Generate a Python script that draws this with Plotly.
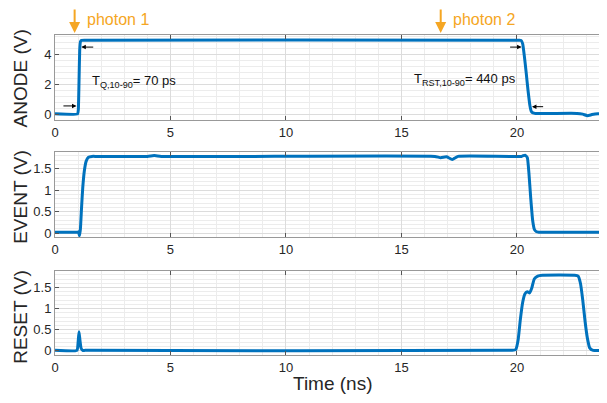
import plotly.graph_objects as go

# ---------------- data ----------------
anode_t = [0, 0.98, 1.01, 1.04, 1.07, 1.10, 1.15, 1.3, 20.1, 20.18, 20.25, 20.32, 20.4, 20.48, 20.56, 20.62, 20.7, 20.8, 22.6, 22.85, 23.05, 23.25, 23.5, 23.9]
anode_v = [0.02, 0.02, 0.3, 2.2, 4.3, 4.85, 4.94, 4.95, 4.95, 4.94, 4.7, 3.9, 2.8, 1.6, 0.6, 0.2, 0.08, 0.05, 0.05, 0.0, -0.1, -0.03, 0.03, 0.05]

event_t = [0, 0.98, 1.02, 1.06, 1.1, 1.15, 1.2, 1.27, 1.35, 1.45, 1.6, 1.8, 4.0, 4.3, 4.6, 16.45, 16.7, 16.95, 17.2, 17.45, 20.2, 20.35, 20.45, 20.52, 20.6, 20.68, 20.76, 20.85, 20.95, 21.1, 23.9]
event_v = [0.02, 0.02, 0.03, -0.06, 0.1, 0.6, 1.05, 1.45, 1.68, 1.77, 1.79, 1.79, 1.79, 1.81, 1.79, 1.79, 1.76, 1.78, 1.72, 1.79, 1.79, 1.82, 1.76, 1.4, 0.8, 0.3, 0.08, 0.03, 0.02, 0.02, 0.02]

reset_t = [0, 0.95, 1.0, 1.04, 1.08, 1.13, 1.2, 1.3, 19.8, 19.95, 20.05, 20.15, 20.25, 20.35, 20.45, 20.55, 20.65, 20.75, 20.9, 21.1, 22.5, 22.65, 22.75, 22.85, 22.95, 23.05, 23.15, 23.3, 23.9]
reset_v = [0.01, 0.01, 0.2, 0.45, 0.25, 0.06, 0.01, 0.01, 0.01, 0.03, 0.25, 0.75, 1.15, 1.35, 1.40, 1.37, 1.50, 1.70, 1.77, 1.79, 1.79, 1.77, 1.6, 1.2, 0.7, 0.3, 0.07, 0.01, 0.01]

x_ticks = [0, 5, 10, 15, 20]
anode_ticks = [0, 2, 4]
logic_ticks = [0, 0.5, 1, 1.5]
logic_tick_labels = ["0", "0.5", "1", "1.5"]

photon_times = [0.85, 16.7]
photon_labels = ["photon 1", "photon 2"]

# ---------------- figure ----------------
BLUE = "#0072BD"
ORANGE = "#F5A623"
FONT = "Liberation Sans, Arial, sans-serif"
TXT = "#262626"

fig = go.Figure()
for i, (t, v) in enumerate([(anode_t, anode_v), (event_t, event_v), (reset_t, reset_v)]):
    fig.add_trace(go.Scatter(x=t, y=v, mode="lines",
                             line=dict(color=BLUE, width=3, shape="spline", smoothing=0.4),
                             xaxis="x" if i == 0 else f"x{i+1}",
                             yaxis="y" if i == 0 else f"y{i+1}",
                             showlegend=False, hoverinfo="skip"))

domains = [[0.734, 1.0], [0.369, 0.634], [0.0, 0.2625]]
yranges = [[-0.4, 5.3], [-0.09, 1.89], [-0.1, 1.89]]
ytitles = ["ANODE (V)", "EVENT (V)", "RESET (V)"]
ytitle_y = [0.865, 0.495, 0.12]

common_x = dict(range=[0, 23.9], tickvals=x_ticks, ticks="inside", ticklen=4,
                tickcolor="#555", showline=True, linecolor="#999", linewidth=1,
                mirror="allticks", showgrid=True, gridcolor="#dcdcdc", gridwidth=1,
                zeroline=False, automargin=False,
                tickfont=dict(family=FONT, size=13, color=TXT),
                minor=dict(dtick=1, showgrid=True, gridcolor="#ececec", ticks=""))
layout = {}
for i in range(3):
    xa = "xaxis" if i == 0 else f"xaxis{i+1}"
    ya = "yaxis" if i == 0 else f"yaxis{i+1}"
    xd = dict(common_x)
    xd["anchor"] = "y" if i == 0 else f"y{i+1}"
    xd["domain"] = [0, 1]
    layout[xa] = xd
    yd = dict(range=yranges[i], domain=domains[i], ticks="inside", ticklen=4,
              tickcolor="#555", showline=True, linecolor="#999", linewidth=1,
              mirror="allticks", showgrid=True, gridcolor="#dcdcdc", zeroline=False,
              automargin=False,
              anchor="x" if i == 0 else f"x{i+1}",
              tickfont=dict(family=FONT, size=13, color=TXT))
    if i == 0:
        yd["tickvals"] = anode_ticks
        yd["minor"] = dict(dtick=0.4, tick0=0, showgrid=True, gridcolor="#ececec", ticks="")
    else:
        yd["tickvals"] = logic_ticks
        yd["ticktext"] = logic_tick_labels
        yd["minor"] = dict(dtick=0.1, tick0=0, showgrid=True, gridcolor="#ececec", ticks="")
    layout[ya] = yd

fig.update_layout(**layout)

annotations = []
# axis titles
for title, yy in zip(ytitles, ytitle_y):
    annotations.append(dict(x=-0.063, y=yy, xref="paper", yref="paper", text=title,
                            textangle=-90, showarrow=False, xanchor="center", yanchor="middle",
                            font=dict(family=FONT, size=19, color=TXT)))
annotations.append(dict(x=0.504, y=-0.088, xref="paper", yref="paper", text="Time (ns)",
                        showarrow=False, xanchor="center", yanchor="middle",
                        font=dict(family=FONT, size=19, color=TXT)))
# photon arrows and labels
for t, lab in zip(photon_times, photon_labels):
    annotations.append(dict(x=t, y=1.006, xref="x", yref="paper", ax=0, ay=-29,
                            showarrow=True, arrowhead=2, arrowsize=1.1, arrowwidth=2,
                            arrowcolor=ORANGE, text=""))
    annotations.append(dict(x=t + 0.45, y=1.047, xref="x", yref="paper", text=lab,
                            showarrow=False, xanchor="left", yanchor="middle",
                            font=dict(family=FONT, size=16, color=ORANGE)))
# black marker arrows in ANODE panel
arrows = [(0.93, 0.55, 0.3, 0.55), (1.14, 4.49, 1.72, 4.49),
          (20.2, 4.49, 19.64, 4.49), (20.65, 0.5, 21.2, 0.5)]
for x, y, ax, ay in arrows:
    annotations.append(dict(x=x, y=y, ax=ax, ay=ay, xref="x", yref="y", axref="x", ayref="y",
                            showarrow=True, arrowhead=2, arrowsize=0.9, arrowwidth=1,
                            arrowcolor="black", text=""))
annotations.append(dict(x=1.5, y=2.2, xref="x", yref="y", text="T<sub>Q,10-90</sub>= 70 ps",
                        showarrow=False, xanchor="left", yanchor="middle",
                        font=dict(family=FONT, size=13, color="#111")))
annotations.append(dict(x=15.46, y=2.3, xref="x", yref="y", text="T<sub>RST,10-90</sub>= 440 ps",
                        showarrow=False, xanchor="left", yanchor="middle",
                        font=dict(family=FONT, size=13, color="#111")))

# page body has an 8px default margin: size the figure so the plot lands where the reference has it
fig.update_layout(annotations=annotations, width=599, height=395,
                  margin=dict(l=47, r=0, t=27, b=48),
                  plot_bgcolor="white", paper_bgcolor="white",
                  font=dict(family=FONT))

fig.write_html("out.html")
